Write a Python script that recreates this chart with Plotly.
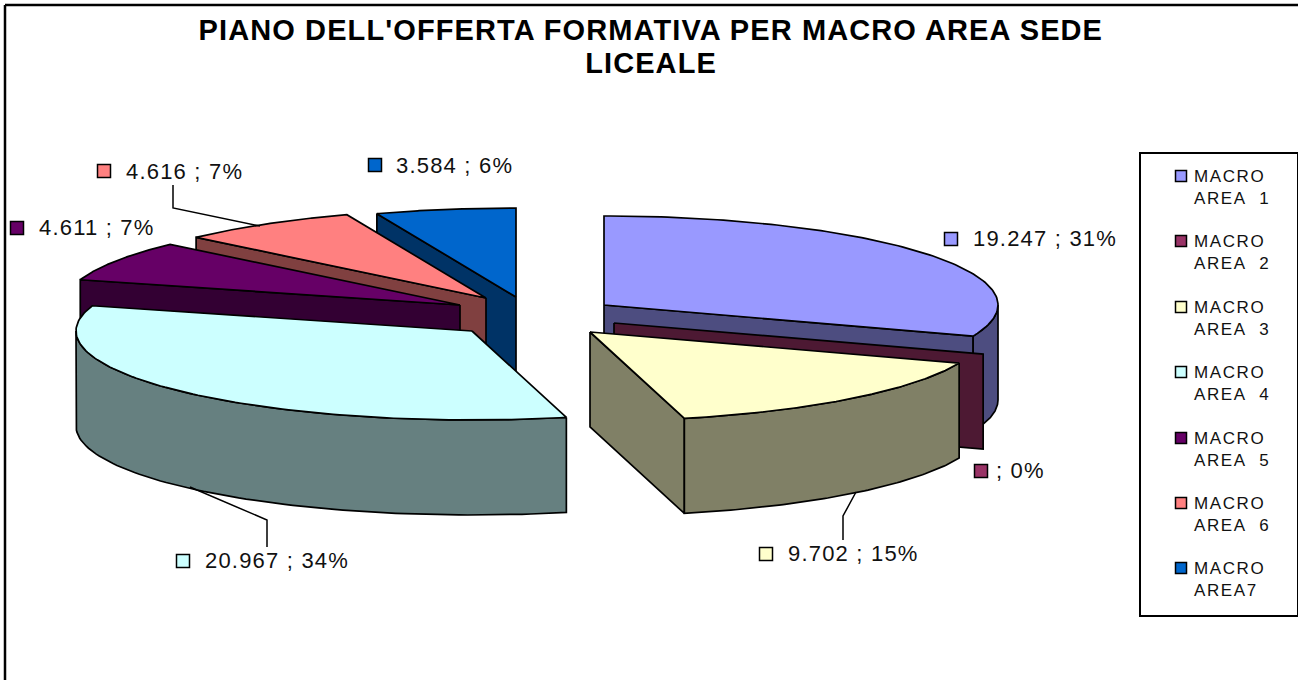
import numpy as np
import plotly.graph_objects as go

# ---- data ----
categories = ["MACRO AREA 1", "MACRO AREA 2", "MACRO AREA 3", "MACRO AREA 4",
              "MACRO AREA 5", "MACRO AREA 6", "MACRO AREA7"]
values = [19247, 0, 9702, 20967, 4611, 4616, 3584]
percent_labels = [31, 0, 15, 34, 7, 7, 6]
title_lines = ["PIANO DELL'OFFERTA FORMATIVA PER MACRO AREA SEDE", "LICEALE"]

# ---- styling and layout ----
top_colors = ["#9999FF", "#993366", "#FFFFCC", "#CCFFFF", "#660066", "#FF8080", "#0066CC"]
side_colors = ["#4D4D80", "#4D1933", "#808066", "#668080", "#330033", "#804040", "#003366"]
apex_x = [604, 614, 590, 472, 460, 486, 516]
apex_y = [305, 323, 332, 331, 305, 298, 297]
RX_RIGHT, RX_LEFT, RY, DEPTH = 394, 396, 89, 95
draw_order = [6, 5, 4, 0, 1, 2, 3]
face_edge = ["end", "end", "end", None, "start", "start", "start"]

label_x = [971, 994, 786, 203, 37, 124, 394]
label_y = [238, 470, 553, 560, 227, 171, 165]
key_x = [951, 981, 766, 183, 17, 104, 375]
key_y = [239, 471, 554, 561, 228, 171, 165]
legend_key_x = 1181
legend_text_x = 1192
legend_y = [176, 241, 307, 372, 438, 503, 568]
legend_line_gap = 22
leader_x = [[173, 173, 260], [190, 267, 267], [856, 843, 843]]
leader_y = [[185, 208, 226], [487, 520, 547], [492, 516, 540]]

# ---- pie geometry computed from the values ----
total = sum(values)
edges = np.concatenate([[0], np.cumsum(values)]) / total * 360.0


def rim(i, angles, dy=0.0):
    r = np.radians(angles)
    s = np.sin(r)
    return apex_x[i] + np.where(s > 0, RX_RIGHT, RX_LEFT) * s, apex_y[i] - RY * np.cos(r) + dy


fig = go.Figure()
LW = 1.7


def poly(xs, ys, color, name):
    fig.add_trace(go.Scatter(x=list(xs), y=list(ys), mode="lines", fill="toself",
                             fillcolor=color, line=dict(color="black", width=LW),
                             name=name, hoverinfo="name", showlegend=False))


for i in draw_order:
    a0, a1 = edges[i], edges[i + 1]
    # flat radial wall
    if face_edge[i]:
        a = a1 if face_edge[i] == "end" else a0
        ex, ey = rim(i, np.array([a]))
        poly([apex_x[i], ex[0], ex[0], apex_x[i], apex_x[i]],
             [apex_y[i], ey[0], ey[0] + DEPTH, apex_y[i] + DEPTH, apex_y[i]],
             side_colors[i], categories[i])
    # curved outer wall (front half of the ellipse only)
    lo, hi = max(a0, 90), min(a1, 270)
    if hi > lo:
        arc = np.linspace(lo, hi, 80)
        tx, ty = rim(i, arc)
        bx, by = rim(i, arc[::-1], DEPTH)
        poly(np.r_[tx, bx, tx[0]], np.r_[ty, by, ty[0]], side_colors[i], categories[i])
    # top surface
    if a1 > a0:
        arc = np.linspace(a0, a1, 120)
        tx, ty = rim(i, arc)
        poly(np.r_[apex_x[i], tx, apex_x[i]], np.r_[apex_y[i], ty, apex_y[i]],
             top_colors[i], categories[i])

# leader lines
for lx, ly in zip(leader_x, leader_y):
    fig.add_trace(go.Scatter(x=lx, y=ly, mode="lines", line=dict(color="black", width=1.5),
                             hoverinfo="skip", showlegend=False))

# data label keys
fig.add_trace(go.Scatter(x=key_x, y=key_y, mode="markers", hoverinfo="skip", showlegend=False,
                         marker=dict(symbol="square", size=13, color=top_colors,
                                     line=dict(color="black", width=1.5))))
# legend keys
fig.add_trace(go.Scatter(x=[legend_key_x] * 7, y=legend_y, mode="markers", hoverinfo="skip",
                         showlegend=False,
                         marker=dict(symbol="square", size=11, color=top_colors,
                                     line=dict(color="black", width=1.5))))

FONT = "Liberation Sans"
anns = []
for i, v in enumerate(values):
    num = f"{v:,}".replace(",", ".") if v else ""
    txt = f"{num} ; {percent_labels[i]}%" if v else f"; {percent_labels[i]}%"
    anns.append(dict(x=label_x[i], y=label_y[i], text=txt, xanchor="left", yanchor="middle",
                     showarrow=False, font=dict(family=FONT, size=22, color="#111111")))
for i, c in enumerate(categories):
    first, second = "MACRO", c.split(" ", 1)[1].replace(" ", "\u00a0\u00a0")
    anns.append(dict(x=legend_text_x, y=legend_y[i], text=first, xanchor="left", yanchor="middle",
                     showarrow=False, font=dict(family=FONT, size=17, color="#111111")))
    anns.append(dict(x=legend_text_x, y=legend_y[i] + legend_line_gap, text=second, xanchor="left",
                     yanchor="middle", showarrow=False, font=dict(family=FONT, size=17, color="#111111")))
for line, y in zip(title_lines, [30, 63]):
    anns.append(dict(x=651, y=y, text=f"<b>{line}</b>", xanchor="center", yanchor="middle",
                     showarrow=False, font=dict(family=FONT, size=29, color="black")))

shapes = [
    dict(type="line", x0=5, x1=1298, y0=5, y1=5, line=dict(color="black", width=2.5), layer="below"),
    dict(type="line", x0=5, x1=5, y0=5, y1=680, line=dict(color="black", width=2.5), layer="below"),
    dict(type="rect", x0=1140, x1=1298, y0=153, y1=616, line=dict(color="black", width=2),
         fillcolor="white", layer="below"),
]

fig.update_layout(width=1298, height=680, autosize=False, margin=dict(l=0, r=0, t=0, b=0),
                  paper_bgcolor="white", plot_bgcolor="white", annotations=anns, shapes=shapes,
                  showlegend=False,
                  xaxis=dict(range=[0, 1298], visible=False, fixedrange=True),
                  yaxis=dict(range=[680, 0], visible=False, fixedrange=True))

post = """
document.body.style.margin='0';document.body.style.overflow='hidden';
document.querySelectorAll('.annotation-text').forEach(function(t){
  var size=parseFloat(t.style.fontSize);
  var sp=size===22?1.2:(size===17?1.6:1.1);
  t.style.letterSpacing=sp+'px';
  if(size!==29){t.setAttribute('x',parseFloat(t.getAttribute('x'))+t.textContent.length*sp/2);}
});
"""
fig.write_html("out.html", post_script=post, config=dict(displayModeBar=False))
